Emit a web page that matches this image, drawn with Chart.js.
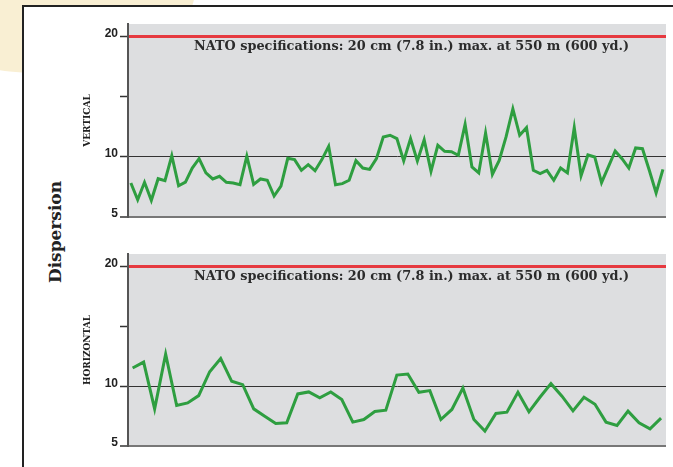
<!DOCTYPE html>
<html>
<head>
<meta charset="utf-8">
<script src="https://cdn.jsdelivr.net/npm/chart.js@4.4.0/dist/chart.umd.min.js"></script>
<style>
  body { margin: 0; width: 673px; height: 467px; overflow: hidden; background: #fff; position: relative; }
  #blob { position: absolute; left: -115px; top: -93px; width: 310px; height: 166px; border-radius: 50%; background: #f9efd3; }
  #panel { position: absolute; left: 22px; top: 5px; width: 720px; height: 520px; border: 2px solid #222; background: #fff; }
  #dispersion { position: absolute; left: 55px; top: 232px; transform: translate(-50%, -50%) rotate(-90deg);
    font: bold 17px "DejaVu Serif"; color: #222; white-space: nowrap; }
  canvas { position: absolute; left: 0; }
  #vert { top: 4px; }
  #horiz { top: 234px; }
</style>
</head>
<body>
<div id="blob"></div>
<div id="panel"></div>
<div id="dispersion">Dispersion</div>
<canvas id="vert" width="673" height="215"></canvas>
<canvas id="horiz" width="673" height="214"></canvas>

<script>
// dispersion per group, cm
const vertical = [
  7.83, 6.44, 7.89, 6.39, 8.19, 8.03, 10.1, 7.6, 7.9, 9.08,
  9.86, 8.67, 8.17, 8.39, 7.89, 7.83, 7.69, 10.06, 7.72, 8.17,
  8.06, 6.75, 7.58, 9.89, 9.78, 8.89, 9.36, 8.86, 9.78, 10.89,
  7.69, 7.78, 8.06, 9.69, 9.08, 8.97, 9.86, 11.67, 11.81, 11.53,
  9.67, 11.53, 9.67, 11.44, 8.81, 10.97, 10.47, 10.44, 10.14, 12.72,
  9.17, 8.67, 12.0, 8.56, 9.72, 11.67, 14.0, 11.81, 12.44, 8.89,
  8.61, 8.89, 8.06, 9.08, 8.67, 12.44, 8.44, 10.17, 10.0, 7.86,
  9.17, 10.5, 9.86, 9.08, 10.75, 10.69, 8.89, 7.0, 8.97
];
const horizontal = [
  11.53, 12.03, 8.11, 12.69, 8.39, 8.61, 9.22, 11.22, 12.33, 10.42,
  10.14, 8.11, 7.5, 6.89, 6.94, 9.36, 9.53, 9.03, 9.53, 8.89,
  7.0, 7.22, 7.89, 8.0, 10.94, 11.03, 9.5, 9.64, 7.22, 8.06,
  9.86, 7.22, 6.25, 7.72, 7.83, 9.5, 7.86, 9.08, 10.22, 9.17,
  7.94, 9.08, 8.5, 7.0, 6.72, 7.92, 6.94, 6.44, 7.33
];
const tickValues = [5, 10, 15, 20];
const tickLabels = ['5', '10', '', '20'];
const natoLimit = 20;
const natoText = 'NATO specifications: 20 cm (7.8 in.) max. at 550 m (600 yd.)';

const plotBg = {
  id: 'plotBg',
  beforeDraw(chart) {
    const { ctx, chartArea: a } = chart;
    ctx.save();
    ctx.fillStyle = '#dddee0';
    ctx.fillRect(a.left, a.top, a.right - a.left, a.bottom - a.top);
    ctx.restore();
  }
};

const natoNote = {
  id: 'natoNote',
  afterDraw(chart) {
    const { ctx, chartArea: a, scales } = chart;
    const y = scales.y.getPixelForValue(natoLimit) + 10;
    ctx.save();
    ctx.font = 'bold 13px "DejaVu Serif"';
    ctx.fillStyle = '#2b2b2b';
    ctx.textAlign = 'left';
    ctx.textBaseline = 'middle';
    ctx.fillText(natoText, a.left + 66, y, 435);
    ctx.restore();
  }
};

function makeChart(id, values, title) {
  const n = values.length;
  return new Chart(document.getElementById(id), {
    type: 'line',
    data: {
      datasets: [{
        data: values.map((v, i) => ({ x: i, y: v })),
        borderColor: '#2e9e40',
        borderWidth: 3,
        pointRadius: 0,
        tension: 0
      }]
    },
    options: {
      responsive: false,
      animation: false,
      layout: { padding: { left: 83, right: 7, top: 20, bottom: 2 } },
      plugins: { legend: { display: false }, tooltip: { enabled: false } },
      scales: {
        x: {
          type: 'linear',
          display: false,
          min: -0.42,
          max: (n - 1) + 0.45
        },
        y: {
          min: 5,
          max: 21.08,
          afterBuildTicks: s => { s.ticks = tickValues.map(v => ({ value: v })); },
          afterFit: s => { s.width = 45; },
          ticks: {
            align: 'end',
            padding: 2,
            labelOffset: 3,
            color: '#222',
            font: { family: '"Liberation Sans"', weight: 'bold', size: 12 },
            callback: v => tickLabels[tickValues.indexOf(v)]
          },
          grid: {
            tickLength: 8,
            tickColor: '#333',
            tickWidth: 1.5,
            color: c => c.tick.value === natoLimit ? '#e63a40'
              : c.tick.value === 10 ? '#333'
              : c.tick.value === 5 ? '#777' : 'rgba(0,0,0,0)',
            lineWidth: c => c.tick.value === natoLimit ? 3 : c.tick.value === 5 ? 2 : 1
          },
          border: { color: '#555', width: 2 },
          title: {
            display: true,
            text: title,
            color: '#222',
            padding: 0,
            font: { family: '"DejaVu Serif"', weight: 'bold', size: 9, lineHeight: 1 }
          }
        }
      }
    },
    plugins: [plotBg, natoNote]
  });
}

makeChart('vert', vertical, 'VERTICAL');
makeChart('horiz', horizontal, 'HORIZONTAL');
</script>
</body>
</html>
